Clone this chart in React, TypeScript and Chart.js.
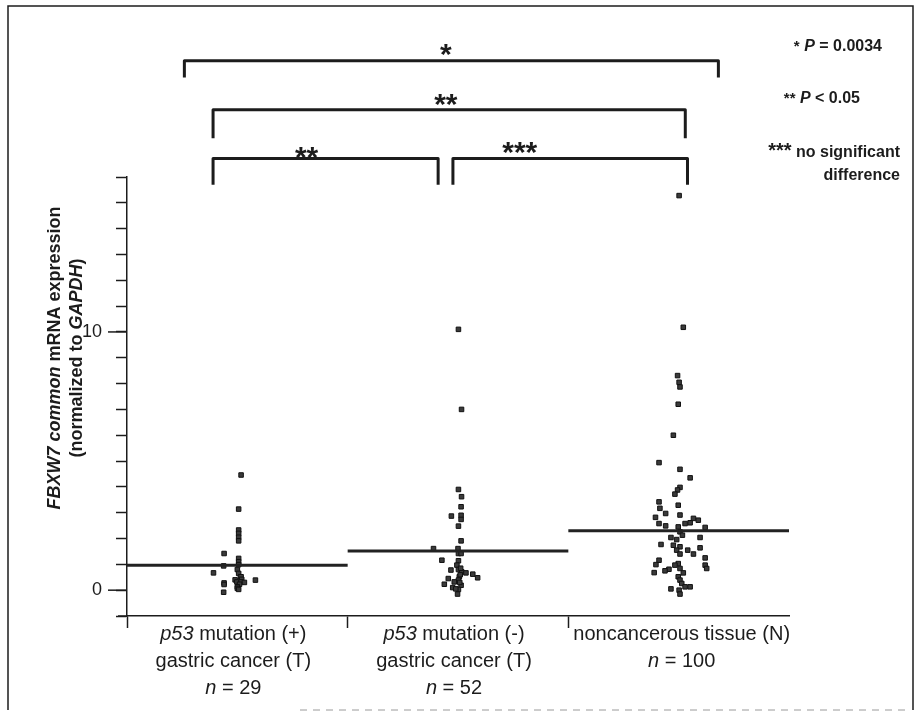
import React, { useEffect, useRef } from 'react';
import { Chart, registerables } from 'chart.js';
Chart.register(...registerables);

// ---------- data ----------
const groupMeans = [0.97, 1.52, 2.3];

const group1Values = [4.46, 3.14, 2.33, 2.2, 2.05, 1.91, 1.42, 1.23, 1.1, 0.99, 0.94, 0.8, 0.67, 0.65, 0.52, 0.52, 0.42, 0.4, 0.39, 0.32, 0.32, 0.3, 0.28, 0.23, 0.22, 0.13, 0.07, 0.03, -0.08];
const group1Jitter = [0.017, 0.006, 0.006, 0.006, 0.006, 0.006, -0.06, 0.006, 0.006, 0.006, -0.062, 0, -0.108, 0.006, 0.014, 0.017, 0.02, -0.01, 0.082, -0.002, 0.017, 0.032, -0.06, 0.01, -0.06, 0, 0, 0.006, -0.062];

const group2Values = [10.1, 7.0, 3.9, 3.62, 3.23, 2.9, 2.87, 2.74, 2.48, 1.91, 1.61, 1.61, 1.42, 1.42, 1.16, 1.14, 0.97, 0.8, 0.78, 0.71, 0.67, 0.62, 0.52, 0.48, 0.45, 0.39, 0.32, 0.23, 0.19, 0.1, 0.03, -0.15, 0.6, 0.3, 0.85, 0.05];
const group2Jitter = [0.002, 0.016, 0.002, 0.016, 0.014, 0.014, -0.03, 0.014, 0.002, 0.014, -0.111, 0, 0.002, 0.014, -0.073, 0.002, -0.005, 0.002, -0.032, 0.017, 0.036, 0.067, 0.006, 0.089, -0.044, 0.002, -0.017, -0.062, 0.014, -0.024, 0.002, -0.002, 0.01, 0.008, 0.012, -0.01];

const group3Values = [15.28, 10.18, 8.31, 8.05, 7.87, 7.2, 6.0, 4.94, 4.68, 4.35, 3.98, 3.88, 3.72, 3.42, 3.29, 3.17, 2.97, 2.91, 2.82, 2.78, 2.71, 2.61, 2.58, 2.58, 2.49, 2.45, 2.43, 2.26, 2.13, 2.04, 2.04, 1.96, 1.77, 1.74, 1.68, 1.64, 1.55, 1.55, 1.4, 1.4, 1.25, 1.16, 1.03, 0.99, 0.97, 0.97, 0.84, 0.84, 0.81, 0.75, 0.68, 0.67, 0.52, 0.39, 0.26, 0.13, 0.13, 0.05, 0.0, -0.15];
const group3Jitter = [0.002, 0.021, -0.005, 0.002, 0.006, -0.002, -0.024, -0.089, 0.006, 0.052, 0.006, -0.005, -0.017, -0.089, -0.002, -0.085, -0.059, 0.006, -0.105, 0.067, 0.089, 0.052, -0.089, 0.029, -0.059, -0.002, 0.12, 0.006, 0.017, -0.035, 0.097, -0.009, -0.08, -0.024, 0.006, 0.097, -0.009, 0.041, 0.006, 0.067, 0.12, -0.089, -0.002, -0.103, 0.12, -0.017, 0.006, 0.127, -0.044, -0.062, -0.111, 0.021, -0.002, 0.006, 0.014, 0.029, 0.052, -0.035, 0.002, 0.006];

const yMin = -1;
const yMax = 16;
const yLabeledTicks = [0, 10];
const xDividers = [-0.5, 0.5, 1.5];

type Seg = [string, boolean];
const categoryLabels: Seg[][][] = [
  [[['p53', true], [' mutation (+)', false]], [['gastric cancer (T)', false]], [['n', true], [' = 29', false]]],
  [[['p53', true], [' mutation (-)', false]], [['gastric cancer (T)', false]], [['n', true], [' = 52', false]]],
  [[['noncancerous tissue (N)', false]], [['n', true], [' = 100', false]]],
];

const yTitleLines: Seg[][] = [
  [['FBXW7 common', true], [' mRNA expression', false]],
  [['(normalized to ', false], ['GAPDH', true], [')', false]],
];

// brackets: [fromX, toX, barY, legEndY, stars, starX, starY]
const brackets: [number, number, number, number, string, number, number][] = [
  [-0.24, 2.18, 20.5, 19.85, '*', 0.945, 21.05],
  [-0.11, 2.03, 18.6, 17.5, '**', 0.945, 19.1],
  [-0.11, 0.91, 16.72, 15.7, '**', 0.314, 17.05],
  [0.977, 2.04, 16.72, 15.7, '***', 1.28, 17.25],
];

const legendLines: { segs: Seg[]; star: string; y: number }[] = [
  { star: '*', segs: [[' ', false], ['P', true], [' = 0.0034', false]], y: 45 },
  { star: '**', segs: [[' ', false], ['P', true], [' < 0.05', false]], y: 97 },
  { star: '***', segs: [[' no significant', false]], y: 151 },
  { star: '', segs: [['difference', false]], y: 174 },
];

const FONT = '"Liberation Sans", Arial, Helvetica, sans-serif';
const INK = '#1c1c1c';

function measureSegs(ctx: CanvasRenderingContext2D, segs: [string, string][]) {
  return segs.map(([t, f]) => {
    ctx.font = f;
    return ctx.measureText(t).width;
  });
}
function drawSegs(ctx: CanvasRenderingContext2D, segs: [string, string][], x: number, y: number, align: 'left' | 'center' | 'right') {
  const w = measureSegs(ctx, segs);
  const total = w.reduce((a, b) => a + b, 0);
  let sx = align === 'center' ? x - total / 2 : align === 'right' ? x - total : x;
  ctx.textAlign = 'left';
  segs.forEach(([t, f], i) => {
    ctx.font = f;
    ctx.fillText(t, sx, y);
    sx += w[i];
  });
}

const decorPlugin = {
  id: 'decor',
  afterDraw(chart: any) {
    const ctx: CanvasRenderingContext2D = chart.ctx;
    const xs = chart.scales.x;
    const ys = chart.scales.y;
    const area = chart.chartArea;
    ctx.save();
    ctx.fillStyle = INK;
    ctx.strokeStyle = INK;
    ctx.textBaseline = 'alphabetic';

    // frame
    ctx.lineWidth = 1.5;
    ctx.beginPath();
    ctx.moveTo(8, 710);
    ctx.lineTo(8, 6);
    ctx.lineTo(913, 6);
    ctx.lineTo(913, 710);
    ctx.stroke();
    ctx.strokeStyle = '#9a9a9a';
    ctx.lineWidth = 1;
    ctx.setLineDash([7, 6]);
    ctx.beginPath();
    ctx.moveTo(300, 710);
    ctx.lineTo(905, 710);
    ctx.stroke();
    ctx.setLineDash([]);
    ctx.strokeStyle = INK;

    // x-axis extension to the left of the y axis
    ctx.lineWidth = 1.5;
    ctx.beginPath();
    ctx.moveTo(area.left - 9, area.bottom);
    ctx.lineTo(area.left, area.bottom);
    ctx.stroke();

    // longer major ticks
    yLabeledTicks.forEach((v) => {
      const py = ys.getPixelForValue(v);
      ctx.beginPath();
      ctx.moveTo(area.left - 19, py);
      ctx.lineTo(area.left, py);
      ctx.stroke();
    });

    // category labels
    categoryLabels.forEach((lines, i) => {
      const cx = xs.getPixelForValue(i) + (i === 2 ? 3 : -4);
      lines.forEach((segs, li) => {
        const s: [string, string][] = segs.map(([t, it]) => [t, `${it ? 'italic ' : ''}20px ${FONT}`]);
        drawSegs(ctx, s, cx, 640 + li * 27, 'center');
      });
    });

    // y title (rotated)
    const midY = 358;
    ctx.save();
    ctx.rotate(-Math.PI / 2);
    yTitleLines.forEach((segs, li) => {
      const s: [string, string][] = segs.map(([t, it]) => [t, `${it ? 'italic ' : ''}bold 18px ${FONT}`]);
      drawSegs(ctx, s, -midY, 60 + li * 22, 'center');
    });
    ctx.restore();

    // brackets
    ctx.lineWidth = 3;
    ctx.lineJoin = 'round';
    brackets.forEach(([fx, tx, by, ly, stars, sx, sy]) => {
      const x1 = xs.getPixelForValue(fx);
      const x2 = xs.getPixelForValue(tx);
      const yb = ys.getPixelForValue(by);
      const yl = ys.getPixelForValue(ly);
      ctx.beginPath();
      ctx.moveTo(x1, yl);
      ctx.lineTo(x1, yb);
      ctx.lineTo(x2, yb);
      ctx.lineTo(x2, yl);
      ctx.stroke();
      ctx.font = `bold 30px ${FONT}`;
      ctx.textAlign = 'center';
      ctx.fillText(stars, xs.getPixelForValue(sx), ys.getPixelForValue(sy) + 17);
    });

    // legend text
    legendLines.forEach(({ segs, star, y }, i) => {
      const s: [string, string][] = [];
      if (star) s.push([star, `bold ${i === 2 ? 20 : 15}px ${FONT}`]);
      segs.forEach(([t, it]) => s.push([t, `${it ? 'italic ' : ''}bold 16px ${FONT}`]));
      const w = measureSegs(ctx, s).reduce((a, b) => a + b, 0);
      const rightEdge = i === 0 ? 882 : i === 1 ? 860 : 900;
      drawSegs(ctx, s, rightEdge - w, y + 6, 'left');
    });

    ctx.restore();
  },
};

function toPoints(values: number[], jitter: number[], idx: number) {
  return values.map((v, i) => ({ x: idx + (jitter[i] || 0), y: v }));
}

export default function App() {
  const ref = useRef<HTMLCanvasElement>(null);
  useEffect(() => {
    document.body.style.margin = '0';
    const pointStyle = {
      type: 'scatter' as const,
      pointStyle: 'rect',
      pointRadius: 3.2,
      backgroundColor: '#3a3a3a',
      borderColor: '#111',
      borderWidth: 1,
    };
    const meanLine = (i: number) => ({
      type: 'line' as const,
      data: [
        { x: i - 0.5, y: groupMeans[i] },
        { x: i + 0.5, y: groupMeans[i] },
      ],
      borderColor: '#222',
      borderWidth: 3,
      pointRadius: 0,
      showLine: true,
    });
    const chart = new Chart(ref.current!, {
      type: 'scatter',
      data: {
        datasets: [
          meanLine(0),
          meanLine(1),
          meanLine(2),
          { ...pointStyle, data: toPoints(group1Values, group1Jitter, 0) },
          { ...pointStyle, data: toPoints(group2Values, group2Jitter, 1) },
          { ...pointStyle, data: toPoints(group3Values, group3Jitter, 2) },
        ] as any,
      },
      options: {
        animation: false,
        responsive: false,
        events: [],
        layout: { padding: { left: 0, top: 177, right: 132, bottom: 61 } },
        plugins: { legend: { display: false }, tooltip: { enabled: false } },
        scales: {
          x: {
            type: 'linear',
            min: -0.5,
            max: 2.5,
            afterBuildTicks: (s: any) => {
              s.ticks = xDividers.map((v) => ({ value: v }));
            },
            afterFit: (s: any) => {
              s.height = 40;
            },
            ticks: { display: false },
            grid: { drawOnChartArea: false, drawTicks: true, tickLength: 12, tickColor: INK, tickWidth: 1.5 },
            border: { color: INK, width: 1.5 },
          },
          y: {
            type: 'linear',
            min: yMin,
            max: yMax,
            afterBuildTicks: (s: any) => {
              const t = [];
              for (let v = yMin; v <= yMax; v++) t.push({ value: v });
              s.ticks = t;
            },
            afterFit: (s: any) => {
              s.width = 127;
            },
            ticks: {
              autoSkip: false,
              padding: 14,
              color: INK,
              font: { family: FONT, size: 18 },
              callback: (v: any) => (yLabeledTicks.includes(Number(v)) ? String(v) : ''),
            },
            grid: { drawOnChartArea: false, drawTicks: true, tickLength: 11, tickColor: INK, tickWidth: 1.5 },
            border: { color: INK, width: 1.5 },
          },
        },
      } as any,
      plugins: [decorPlugin],
    });
    return () => chart.destroy();
  }, []);
  return (
    <div style={{ width: 921, height: 717, background: '#fff' }}>
      <canvas ref={ref} width={921} height={717} />
    </div>
  );
}
